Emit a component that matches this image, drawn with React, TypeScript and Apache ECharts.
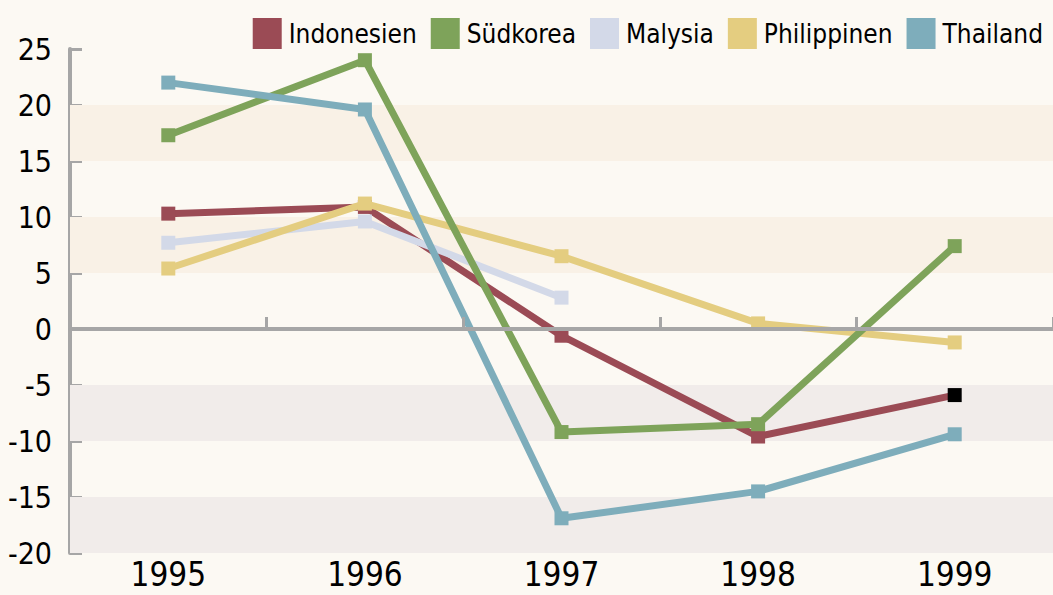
import React, { useEffect, useRef } from "react";
import * as echarts from "echarts";

const years = ["1995", "1996", "1997", "1998", "1999"];
const indonesien = [10.3, 10.9, -0.6, -9.6, -5.9];
const suedkorea = [17.3, 24.0, -9.2, -8.5, 7.4];
const malysia: (number | null)[] = [7.7, 9.6, 2.8, null, null];
const philippinen = [5.4, 11.2, 6.5, 0.5, -1.2];
const thailand = [22.0, 19.6, -16.9, -14.5, -9.4];
const yTicks = { min: -20, max: 25, interval: 5 };
const bandsWarm = [[5, 10], [15, 20]];
const bandsCool = [[-10, -5], [-20, -15]];

const FONT = "'Liberation Sans Narrow', 'DejaVu Sans Condensed', 'Noto Sans', sans-serif";
const AXIS_GRAY = "#a6a6a6";

export default function App() {
  const ref = useRef<HTMLDivElement>(null);
  useEffect(() => {
    if (!ref.current) return;
    const chart = echarts.init(ref.current, undefined, { renderer: "svg" });
    const mk = (name: string, data: any[], color: string, z: number, extra: any = {}) => ({
      name,
      type: "line",
      data,
      xAxisIndex: 0,
      z,
      symbol: "rect",
      symbolSize: 14,
      showAllSymbol: true,
      lineStyle: { color, width: 7 },
      itemStyle: { color, opacity: 1 },
      emphasis: { disabled: true },
      ...extra,
    });
    const indData = indonesien.map((v, i) =>
      i === indonesien.length - 1 ? { value: v, itemStyle: { color: "#000000" } } : v
    );
    chart.setOption({
      animation: false,
      backgroundColor: "#fcf9f3",
      textStyle: { fontFamily: FONT },
      grid: { left: 70, right: 0, top: 49, bottom: 42 },
      legend: {
        right: 5,
        top: 13,
        icon: "rect",
        itemWidth: 29,
        itemHeight: 31,
        itemGap: 14,
        textStyle: { fontSize: 26, color: "#000", fontFamily: FONT, padding: [0, 0, 0, 2] },
        data: ["Indonesien", "Südkorea", "Malysia", "Philippinen", "Thailand"],
      },
      xAxis: [
        {
          type: "category",
          data: years,
          boundaryGap: true,
          z: 10,
          axisLine: { show: true, onZero: true, lineStyle: { color: AXIS_GRAY, width: 4 } },
          axisTick: { show: true, interval: 0, inside: true, length: 12, lineStyle: { color: AXIS_GRAY, width: 3 } },
          axisLabel: { show: true, color: "rgba(0,0,0,0)", fontSize: 1, interval: 0 },
          splitLine: { show: false },
        },
        {
          type: "category",
          data: years,
          boundaryGap: true,
          position: "bottom",
          axisLine: { show: false, onZero: false },
          axisTick: { show: false },
          axisLabel: { fontSize: 33, lineHeight: 33, color: "#000", fontFamily: FONT, margin: 5, interval: 0 },
        },
      ],
      yAxis: {
        type: "value",
        min: yTicks.min,
        max: yTicks.max,
        interval: yTicks.interval,
        axisLine: { show: true, lineStyle: { color: AXIS_GRAY, width: 4 } },
        axisTick: { show: true, inside: true, length: 12, lineStyle: { color: AXIS_GRAY, width: 3 } },
        axisLabel: { fontSize: 30, color: "#000", fontFamily: FONT, margin: 18 },
        splitLine: { show: false },
      },
      series: [
        mk("Indonesien", indData, "#9b4b55", 3, {
          markArea: {
            silent: true,
            z: 1,
            data: [
              ...bandsWarm.map(([a, b]) => [
                { yAxis: a, itemStyle: { color: "#f9f1e6" } },
                { yAxis: b },
              ]),
              ...bandsCool.map(([a, b]) => [
                { yAxis: a, itemStyle: { color: "#f1ecea" } },
                { yAxis: b },
              ]),
            ],
          },
        }),
        mk("Südkorea", suedkorea, "#7ea35a", 6),
        mk("Malysia", malysia, "#d3d9e8", 4),
        mk("Philippinen", philippinen, "#e4cd80", 5),
        mk("Thailand", thailand, "#7eadbb", 7),
      ],
    });
    return () => chart.dispose();
  }, []);
  return (
    <div
      ref={ref}
      style={{ position: "fixed", left: 0, top: 0, width: 1053, height: 595 }}
    />
  );
}
